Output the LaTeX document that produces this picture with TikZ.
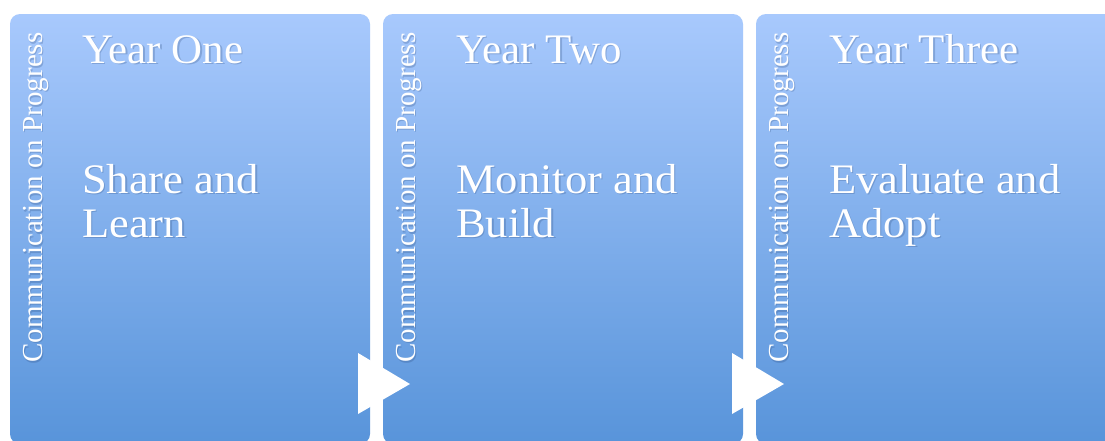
\documentclass[tikz,border=0pt]{standalone}
\usepackage{fontspec}
\setmainfont{Liberation Serif}
\newfontfamily\widefont{Liberation Serif}[FakeStretch=1.06]
\newfontfamily\titlefont{Liberation Serif}[FakeStretch=1.02]
\definecolor{boxtop}{RGB}{168,201,253}
\definecolor{boxbot}{RGB}{88,148,218}
\definecolor{shadowc}{RGB}{40,70,120}
\tikzset{
  yearbox/.style={top color=boxtop, bottom color=boxbot, draw=none, rounded corners=10pt},
  titletext/.style={text=white, font=\titlefont\fontsize{42}{44}\selectfont, inner sep=0pt, anchor=base west},
  bodytext/.style={text=white, font=\widefont\fontsize{42}{44}\selectfont, inner sep=0pt, anchor=base west, align=left},
  sidetext/.style={text=white, font=\fontsize{29}{30}\selectfont, inner sep=0pt, anchor=base west, rotate=90},
  shadowtext/.style={text=shadowc, opacity=0.25},
  chevron/.style={fill=white, draw=none}
}
\begin{document}
\begin{tikzpicture}[x=1pt,y=-1pt]
\useasboundingbox (0,0) rectangle (1105,440);
\fill[white] (0,0) rectangle (1105,440);
\begin{scope}
\clip (0,0) rectangle (1105,440);
\path[yearbox] (10,14) rectangle (370,444);
\path[yearbox] (383,14) rectangle (743,444);
\path[yearbox] (756,14) rectangle (1116,444);
\end{scope}
% chevrons
\fill[chevron] (358,353) -- (410,384) -- (358,414) -- cycle;
\fill[chevron] (732,353) -- (784,384) -- (732,414) -- cycle;
% shadows
\node[titletext,shadowtext] at (83.5,64.5) {Year One};
\node[titletext,shadowtext] at (457.5,64.5) {Year Two};
\node[titletext,shadowtext] at (830.5,64.5) {Year Three};
\node[bodytext,shadowtext] at (83.5,238.5) {Share and\\Learn};
\node[bodytext,shadowtext] at (457.5,238.5) {Monitor and\\Build};
\node[bodytext,shadowtext] at (830.5,238.5) {Evaluate and\\Adopt};
\node[sidetext,shadowtext] at (43.5,364.5) {Communication on Progress};
\node[sidetext,shadowtext] at (416.5,364.5) {Communication on Progress};
\node[sidetext,shadowtext] at (789.5,364.5) {Communication on Progress};
% texts
\node[titletext] (t1) at (82,63) {Year One};
\node[titletext] (t2) at (456,63) {Year Two};
\node[titletext] (t3) at (829,63) {Year Three};
\node[bodytext] (b1) at (82,237) {Share and\\Learn};
\node[bodytext] (b2) at (456,237) {Monitor and\\Build};
\node[bodytext] (b3) at (829,237) {Evaluate and\\Adopt};
\node[sidetext] (s1) at (42,363) {Communication on Progress};
\node[sidetext] (s2) at (415,363) {Communication on Progress};
\node[sidetext] (s3) at (788,363) {Communication on Progress};
\end{tikzpicture}
\end{document}
